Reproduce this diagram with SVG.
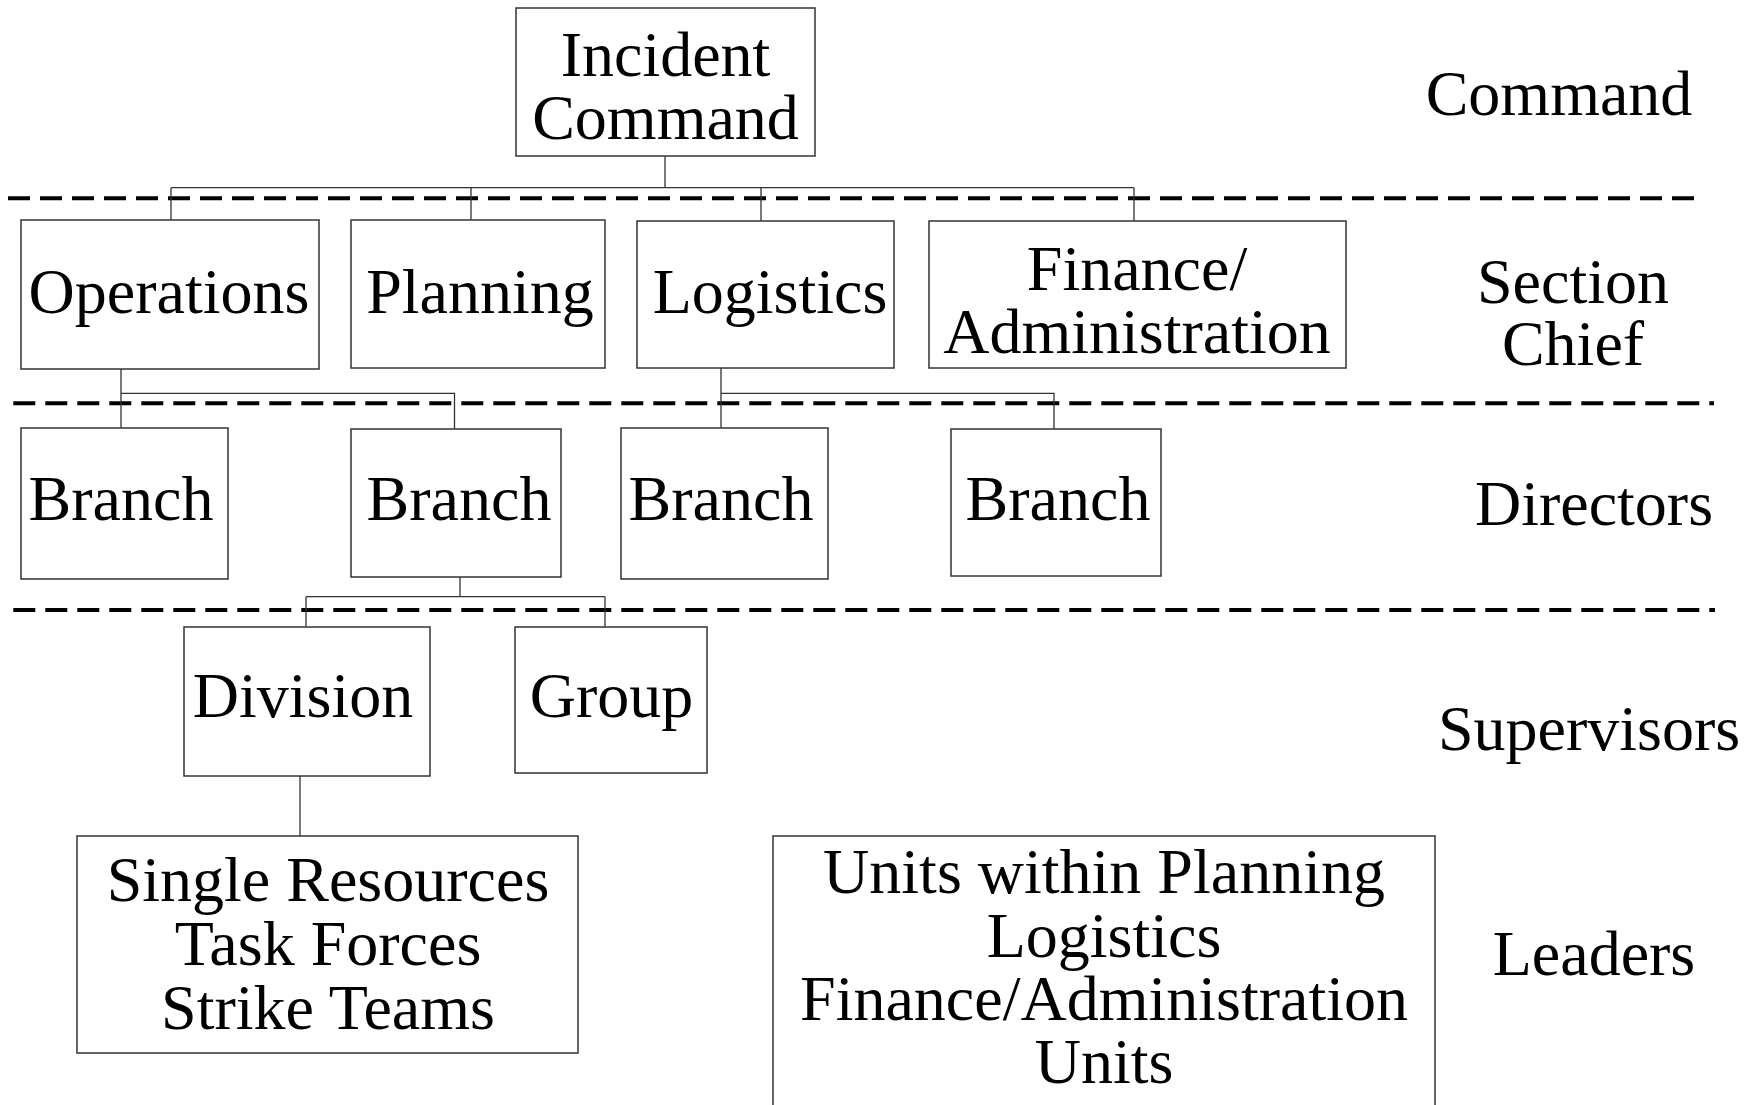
<svg xmlns="http://www.w3.org/2000/svg" width="1760" height="1105" viewBox="0 0 1760 1105">
<style>
.box{fill:#fff;stroke:#333;stroke-width:1.5}
.t{font-family:"Liberation Serif","Times New Roman",serif;font-size:64px;fill:#000;text-anchor:middle}
.c{fill:none;stroke:#333;stroke-width:1.3}
.d{fill:none;stroke:#000;stroke-width:4;stroke-dasharray:22 10}
</style>
<rect width="1760" height="1105" fill="#fff"/>
<g id="levels">
<line class="d" x1="8" y1="198.3" x2="1694" y2="198.3"/>
<line class="d" x1="13.3" y1="403.3" x2="1714" y2="403.3"/>
<line class="d" x1="13.3" y1="610" x2="1715" y2="610"/>
<text class="t" x="1559" y="115">Command</text>
<text class="t" x="1573" y="302.7">Section</text>
<text class="t" x="1573" y="365">Chief</text>
<text class="t" x="1594" y="525">Directors</text>
<text class="t" x="1589" y="750">Supervisors</text>
<text class="t" x="1594" y="975">Leaders</text>
</g>
<g id="connectors">
<path class="c" d="M665,156 V187.7 M171,187.7 H1134 M171,187.7 V220 M471,187.7 V220 M761,187.7 V221 M1134,187.7 V221"/>
<path class="c" d="M121,369 V428 M121,393.3 H454.5 V429"/>
<path class="c" d="M721,368 V428 M721,393.3 H1054 V429"/>
<path class="c" d="M460,577 V596.7 M306,596.7 H605 M306,596.7 V627 M605,596.7 V627"/>
<path class="c" d="M300,776 V836"/>
</g>
<g id="incident-command"><rect class="box" x="516" y="8" width="299" height="148"/><text class="t" x="665.5" y="76">Incident</text><text class="t" x="665.5" y="139">Command</text></g>
<g id="operations"><rect class="box" x="21" y="220" width="298" height="149"/><text class="t" x="169" y="313">Operations</text></g>
<g id="planning"><rect class="box" x="351" y="220" width="254" height="148"/><text class="t" x="480" y="313">Planning</text></g>
<g id="logistics"><rect class="box" x="637" y="221" width="257" height="147"/><text class="t" x="770" y="313">Logistics</text></g>
<g id="finance"><rect class="box" x="929" y="221" width="417" height="147"/><text class="t" x="1137" y="290">Finance/</text><text class="t" x="1137" y="352.7">Administration</text></g>
<g id="branch1"><rect class="box" x="21" y="428" width="207" height="151"/><text class="t" x="121" y="520">Branch</text></g>
<g id="branch2"><rect class="box" x="351" y="429" width="210" height="148"/><text class="t" x="459" y="520">Branch</text></g>
<g id="branch3"><rect class="box" x="621" y="428" width="207" height="151"/><text class="t" x="721" y="520">Branch</text></g>
<g id="branch4"><rect class="box" x="951" y="429" width="210" height="147"/><text class="t" x="1058" y="520">Branch</text></g>
<g id="division"><rect class="box" x="184" y="627" width="246" height="149"/><text class="t" x="303" y="717">Division</text></g>
<g id="group"><rect class="box" x="515" y="627" width="192" height="146"/><text class="t" x="611.6" y="717">Group</text></g>
<g id="single-resources"><rect class="box" x="77" y="836" width="501" height="217"/><text class="t" x="328" y="900.7">Single Resources</text><text class="t" x="328" y="965">Task Forces</text><text class="t" x="328" y="1029.3">Strike Teams</text></g>
<g id="units"><rect class="box" x="773" y="836" width="662" height="290"/><text class="t" x="1104" y="893.3">Units within Planning</text><text class="t" x="1104" y="956.7">Logistics</text><text class="t" x="1104" y="1020">Finance/Administration</text><text class="t" x="1104" y="1083.3">Units</text></g>
</svg>
